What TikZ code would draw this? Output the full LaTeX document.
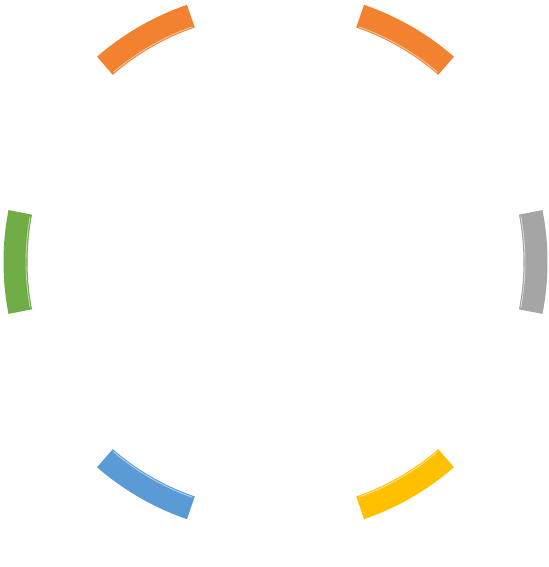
\documentclass[tikz,border=0pt]{standalone}
\usetikzlibrary{calc}

\definecolor{ringorange}{HTML}{F2822F}
\definecolor{ringgreen}{HTML}{70AD47}
\definecolor{ringgray}{HTML}{A5A5A5}
\definecolor{ringblue}{HTML}{5B9BD5}
\definecolor{ringyellow}{HTML}{FFC000}

\begin{document}
\begin{tikzpicture}[
    segment/.style={
        draw=none,
        fill=#1
    },
    bevel/.style={
        #1!45!white,
        line width=0.5pt
    }
]

    \useasboundingbox (0,0) rectangle (10.98,11.34);

    % Centre of the ring
    \coordinate (c) at (5.51,6.10);

    % Six segments round the ring
    \foreach \ang/\col in {0/ringgray, 60/ringorange, 120/ringorange,
                           180/ringgreen, 240/ringblue, 300/ringyellow} {
        \fill[segment=\col]
            ($(c)+(\ang-11:5.44)$) arc[start angle=\ang-11, end angle=\ang+11, radius=5.44]
            -- ($(c)+(\ang+11:4.96)$) arc[start angle=\ang+11, end angle=\ang-11, radius=4.96]
            -- cycle;
        \draw[bevel=\col]
            ($(c)+(\ang-10.5:4.99)$) arc[start angle=\ang-10.5, end angle=\ang+10.5, radius=4.99];
    }

\end{tikzpicture}
\end{document}
